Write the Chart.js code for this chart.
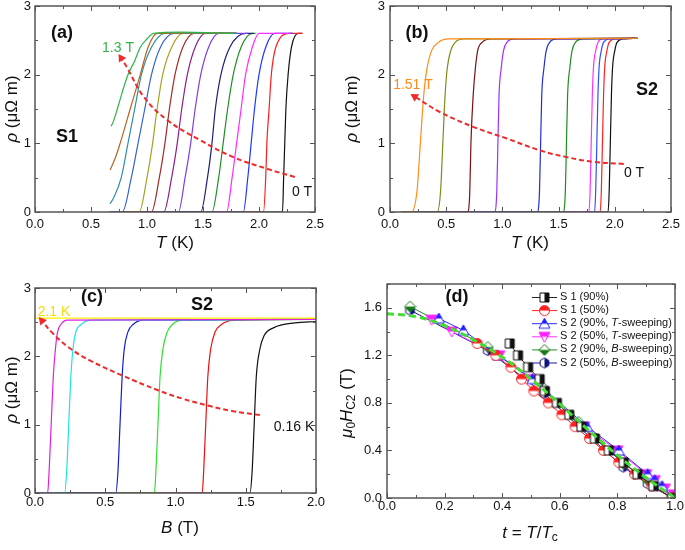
<!DOCTYPE html>
<html>
<head>
<meta charset="utf-8">
<script src="https://cdn.jsdelivr.net/npm/chart.js@4.4.0/dist/chart.umd.min.js"></script>
<style>
  body { margin: 0; background: #fff; }
  #wrap { position: relative; width: 685px; height: 550px; overflow: hidden; }
  canvas { position: absolute; }
</style>
</head>
<body>
<div id="wrap">
  <canvas id="ca" width="345" height="270" style="left:0;top:0"></canvas>
  <canvas id="cb" width="345" height="270" style="left:340px;top:0"></canvas>
  <canvas id="cc" width="345" height="280" style="left:0;top:270px"></canvas>
  <canvas id="cd" width="350" height="280" style="left:335px;top:270px"></canvas>
</div>
<script>
"use strict";

const FONT = "Arial, 'Liberation Sans', sans-serif";

// ---------- (a) S1, T-sweeping, 1.3 T ... 0 T
const aColors = ["#2cb34a", "#b8641e", "#2f8f9f", "#3563cf", "#a5a223", "#a32a24", "#8e1f86",
    "#7c3fe4", "#1c1c7e", "#1f8f22", "#ff2bff", "#2038ff", "#ff1c1c", "#111111"];
const aLevels = [0, 0, 0.5, 1.0, 1.5, 2.0, 2.4, 2.6, 2.6];
const aT = [
    [0.68, 0.70, 0.735, 0.78, 0.83, 0.89, 0.94, 1.00, 1.06, 1.30, 1.77],
    [0.67, 0.72, 0.76, 0.85, 0.94, 1.01, 1.09, 1.40, 1.77],
    [0.67, 0.70, 0.77, 0.83, 0.89, 0.95, 1.04, 1.16, 1.80],
    [0.67, 0.78, 0.86, 0.92, 0.98, 1.04, 1.12, 1.24, 1.80],
    [0.67, 0.93, 1.00, 1.05, 1.09, 1.14, 1.22, 1.32, 1.80],
    [0.67, 1.04, 1.11, 1.16, 1.20, 1.25, 1.32, 1.42, 1.80],
    [0.67, 1.15, 1.22, 1.27, 1.31, 1.36, 1.43, 1.52, 1.80],
    [0.67, 1.28, 1.34, 1.39, 1.43, 1.48, 1.55, 1.64, 1.90],
    [0.67, 1.48, 1.54, 1.58, 1.61, 1.66, 1.74, 1.88, 1.95],
    [0.67, 1.58, 1.64, 1.68, 1.72, 1.77, 1.84, 1.94, 1.97],
    [0.67, 1.71, 1.76, 1.80, 1.84, 1.88, 1.94, 2.00, 2.28],
    [0.67, 1.86, 1.90, 1.93, 1.96, 2.00, 2.06, 2.14, 2.30],
    [0.67, 2.04, 2.06, 2.07, 2.09, 2.11, 2.15, 2.27, 2.39],
    [0.67, 2.21, 2.22, 2.23, 2.24, 2.26, 2.29, 2.35, 2.38]
];
const aRho = [
    [1.25, 1.32, 1.50, 1.75, 2.00, 2.20, 2.40, 2.52, 2.60, 2.62, 2.60],
    [0.61, 0.80, 1.00, 1.50, 2.00, 2.40, 2.60, 2.61, 2.60],
    [0.12, 0.20, 0.50, 1.00, 1.50, 2.00, 2.40, 2.60, 2.60]
].concat(aT.slice(3).map(() => aLevels));
const aArrowT = [2.32, 2.07, 1.77, 1.47, 1.18, 0.97, 0.82, 0.77];
const aArrowRho = [0.51, 0.63, 0.80, 1.05, 1.34, 1.68, 2.11, 2.24];
const aXTicks = [0, 0.5, 1.0, 1.5, 2.0, 2.5];
const aYTicks = [0, 1, 2, 3];

// ---------- (b) S2, T-sweeping, 1.51 T ... 0 T
const bColors = ["#ff8c1a", "#7f8c1c", "#7a1010", "#9b30ff", "#1f2fd0", "#1e8c1e", "#ff33ff", "#3050ff", "#ff2020", "#111111"];
const bLevels = [0, 0, 0.3, 1.0, 1.7, 2.1, 2.35, 2.47, 2.52, 2.53];
const bT = [
    [0.10, 0.19, 0.24, 0.27, 0.30, 0.33, 0.37, 0.43, 0.52, 2.2],
    [0.10, 0.42, 0.45, 0.47, 0.49, 0.51, 0.54, 0.58, 0.66, 2.2],
    [0.10, 0.69, 0.71, 0.72, 0.74, 0.76, 0.78, 0.82, 0.90, 2.2],
    [0.10, 0.93, 0.95, 0.96, 0.97, 0.99, 1.01, 1.04, 1.11, 2.2],
    [0.10, 1.31, 1.33, 1.34, 1.35, 1.37, 1.39, 1.42, 1.49, 2.2],
    [0.10, 1.54, 1.56, 1.57, 1.58, 1.60, 1.62, 1.65, 1.72, 2.2],
    [0.10, 1.77, 1.78, 1.79, 1.80, 1.81, 1.83, 1.85, 1.89, 2.2],
    [0.10, 1.82, 1.83, 1.84, 1.85, 1.86, 1.88, 1.90, 1.95, 2.2],
    [0.10, 1.87, 1.88, 1.89, 1.90, 1.91, 1.93, 1.95, 2.00, 2.2],
    [0.10, 1.94, 1.95, 1.96, 1.97, 1.98, 2.00, 2.02, 2.07, 2.2]
];
const bRho = bT.map(() => bLevels);
const bArrowT = [2.08, 1.81, 1.57, 1.33, 1.04, 0.74, 0.44, 0.22];
const bArrowRho = [0.70, 0.73, 0.80, 0.90, 1.07, 1.24, 1.46, 1.68];

// ---------- (c) S2, B-sweeping, 2.1 K ... 0.16 K
const cColors = ["#ffee00", "#e020e0", "#20e0f0", "#1020d0", "#30e030", "#ee1010", "#111111"];
const cLevels = [0, 0, 0.3, 1.0, 1.7, 2.1, 2.35, 2.47, 2.53, 2.54];
const cB = [
    [0, 2.0],
    [0, 0.09, 0.10, 0.115, 0.13, 0.145, 0.16, 0.185, 0.23, 2.0],
    [0, 0.21, 0.225, 0.24, 0.255, 0.27, 0.29, 0.33, 0.40, 2.0],
    [0, 0.575, 0.59, 0.605, 0.62, 0.635, 0.66, 0.70, 0.77, 2.0],
    [0, 0.85, 0.86, 0.875, 0.89, 0.91, 0.94, 0.98, 1.05, 2.0],
    [0, 1.19, 1.20, 1.215, 1.23, 1.25, 1.28, 1.33, 1.42, 2.0],
    [0, 1.53, 1.545, 1.56, 1.575, 1.60, 1.63, 1.70, 1.85, 2.0]
];
const cRho = [
    [2.56, 2.56],
    cLevels, cLevels, cLevels, cLevels, cLevels,
    [0, 0, 0.3, 1.0, 1.7, 2.1, 2.3, 2.42, 2.49, 2.51]
];
const cArrowB = [1.60, 1.40, 1.23, 1.05, 0.88, 0.62, 0.40, 0.24, 0.12, 0.05];
const cArrowRho = [1.14, 1.20, 1.28, 1.38, 1.50, 1.72, 1.93, 2.13, 2.35, 2.52];
const cXTicks = [0, 0.5, 1.0, 1.5, 2.0];

// ---------- (d) upper critical field vs reduced temperature
const dS1_90_t = [0.426, 0.455, 0.49, 0.53, 0.548, 0.59, 0.633, 0.675, 0.722, 0.77, 0.822, 0.87, 0.925, 0.99];
const dS1_90_h = [1.3, 1.2, 1.1, 1.0, 0.9, 0.8, 0.7, 0.6, 0.5, 0.4, 0.3, 0.2, 0.1, 0.0];
const dS1_50_t = [0.313, 0.378, 0.43, 0.467, 0.51, 0.56, 0.607, 0.653, 0.703, 0.752, 0.805, 0.86, 0.92, 0.99];
const dS1_50_h = [1.3, 1.2, 1.1, 1.0, 0.9, 0.8, 0.7, 0.6, 0.5, 0.4, 0.3, 0.2, 0.1, 0.0];
const dS2_90T_t = [0.18, 0.265, 0.385, 0.505, 0.695, 0.805, 0.905, 0.93, 0.955, 0.995];
const dS2_90T_h = [1.51, 1.41, 1.2, 1.0, 0.6, 0.4, 0.2, 0.15, 0.1, 0.0];
const dS2_50T_t = [0.155, 0.225, 0.39, 0.50, 0.685, 0.80, 0.90, 0.93, 0.965, 0.997];
const dS2_50T_h = [1.5, 1.4, 1.2, 1.0, 0.6, 0.4, 0.2, 0.15, 0.08, 0.03];
const dS2_90B_t = [0.08, 0.35, 0.545, 0.665, 0.82, 0.905, 0.995];
const dS2_90B_h = [1.61, 1.27, 0.92, 0.64, 0.29, 0.15, 0.01];
const dS2_50B_t = [0.08, 0.35, 0.545, 0.665, 0.82, 0.905, 0.99];
const dS2_50B_h = [1.58, 1.24, 0.88, 0.60, 0.26, 0.12, 0.0];
const dFit_t = [0, 0.1, 0.2, 0.3, 0.4, 0.5, 0.6, 0.7, 0.8, 0.9, 1.0];
const dFit_h = [1.55, 1.525, 1.45, 1.33, 1.185, 1.0, 0.79, 0.57, 0.36, 0.17, 0.0];
const dXTicks = [0, 0.2, 0.4, 0.6, 0.8, 1.0];
const dYTicks = [0, 0.4, 0.8, 1.2, 1.6];
const dNames = [
    [["S 1 (90%)"]],
    [["S 1 (50%)"]],
    [["S 2 (90%, "], ["T", "i"], ["-sweeping)"]],
    [["S 2 (50%, "], ["T", "i"], ["-sweeping)"]],
    [["S 2 (90%, "], ["B", "i"], ["-sweeping)"]],
    [["S 2 (50%, "], ["B", "i"], ["-sweeping)"]]
];

// ---------- helpers
function pts(xs, ys) {
    return xs.map((v, j) => ({ x: v, y: ys[j] }));
}

function curves(xs, ys, colors) {
    return xs.map((x, i) => ({
        data: pts(x, ys[i]),
        borderColor: colors[i],
        borderWidth: 1.2,
        pointRadius: 0,
        cubicInterpolationMode: "monotone"
    }));
}

function tipAngle(c) {
    const d = c.dataset.data;
    const n = d.length;
    if (c.dataIndex !== n - 1) return 0;
    const xs = c.chart.scales.x, ys = c.chart.scales.y;
    const dx = xs.getPixelForValue(d[n - 1].x) - xs.getPixelForValue(d[n - 2].x);
    const dy = ys.getPixelForValue(d[n - 1].y) - ys.getPixelForValue(d[n - 2].y);
    return Math.atan2(dx, -dy) * 180 / Math.PI;
}

function arrow(xs, ys) {
    return {
        data: pts(xs, ys),
        borderColor: "#ee2b2b",
        backgroundColor: "#ee2b2b",
        borderWidth: 2,
        borderDash: [5, 3],
        tension: 0.4,
        pointStyle: "triangle",
        pointRadius: c => (c.dataIndex === xs.length - 1 ? 5 : 0),
        pointBorderWidth: 0,
        pointRotation: tipAngle
    };
}

function marker(shape, color, half) {
    const c = document.createElement("canvas");
    c.width = c.height = 13;
    const g = c.getContext("2d");
    const r = 5;
    g.translate(6.5, 6.5);
    g.beginPath();
    if (shape === "square") {
        g.rect(-4.5, -4.5, 9, 9);
    } else if (shape === "circle") {
        g.arc(0, 0, r, 0, Math.PI * 2);
    } else if (shape === "up") {
        g.moveTo(0, -r - 0.5); g.lineTo(r + 0.5, r - 0.5); g.lineTo(-r - 0.5, r - 0.5); g.closePath();
    } else if (shape === "down") {
        g.moveTo(0, r + 0.5); g.lineTo(r + 0.5, -r + 0.5); g.lineTo(-r - 0.5, -r + 0.5); g.closePath();
    } else if (shape === "diamond") {
        g.moveTo(0, -r - 0.5); g.lineTo(r + 0.5, 0); g.lineTo(0, r + 0.5); g.lineTo(-r - 0.5, 0); g.closePath();
    } else {
        for (let k = 0; k < 6; k++) {
            const a = k * Math.PI / 3 + Math.PI / 6;
            g.lineTo(r * Math.cos(a), r * Math.sin(a));
        }
        g.closePath();
    }
    g.fillStyle = "#fff";
    g.fill();
    g.save();
    g.clip();
    g.fillStyle = color;
    if (half === "right") g.fillRect(0, -7, 7, 14);
    else if (half === "top") g.fillRect(-7, -7, 14, 7);
    else g.fillRect(-7, 0, 14, 7);
    g.restore();
    g.strokeStyle = color;
    g.lineWidth = 1;
    g.stroke();
    return c;
}

function series(xs, ys, color, img) {
    return {
        data: pts(xs, ys),
        borderColor: color,
        backgroundColor: color,
        borderWidth: 1,
        pointStyle: img,
        pointRadius: 5
    };
}

function drawRich(ctx, parts, x, y, size, color, align, rot) {
    const fontOf = st => (st.includes("i") ? "italic " : "") + (st.includes("b") ? "bold " : "") +
        (st.includes("s") ? size * 0.7 : size) + "px " + FONT;
    ctx.save();
    ctx.translate(x, y);
    if (rot) ctx.rotate(-Math.PI / 2);
    ctx.fillStyle = color || "#111";
    ctx.textBaseline = "middle";
    ctx.textAlign = "left";
    let w = 0;
    parts.forEach(p => { ctx.font = fontOf(p[1] || ""); w += ctx.measureText(p[0]).width; });
    let cx = align === "left" ? 0 : -w / 2;
    parts.forEach(p => {
        const st = p[1] || "";
        ctx.font = fontOf(st);
        ctx.fillText(p[0], cx, st.includes("s") ? size * 0.3 : 0);
        cx += ctx.measureText(p[0]).width;
    });
    ctx.restore();
}

// box with inward major/minor ticks on all four sides
function frame(xMinor, yMinor) {
    return {
        id: "boxTicks",
        afterDraw(chart) {
            const { ctx, chartArea: a, scales } = chart;
            const xs = scales.x, ys = scales.y;
            ctx.save();
            ctx.strokeStyle = "#555";
            ctx.lineWidth = 1;
            ctx.beginPath();
            for (let v = xs.min; v <= xs.max + 1e-9; v += xMinor) {
                const major = xs.ticks.some(t => Math.abs(t.value - v) < 1e-6);
                const l = major ? 5 : 3;
                const p = Math.round(xs.getPixelForValue(v)) + 0.5;
                ctx.moveTo(p, a.bottom); ctx.lineTo(p, a.bottom - l);
                ctx.moveTo(p, a.top); ctx.lineTo(p, a.top + l);
            }
            for (let v = ys.min; v <= ys.max + 1e-9; v += yMinor) {
                const major = ys.ticks.some(t => Math.abs(t.value - v) < 1e-6);
                const l = major ? 5 : 3;
                const p = Math.round(ys.getPixelForValue(v)) + 0.5;
                ctx.moveTo(a.left, p); ctx.lineTo(a.left + l, p);
                ctx.moveTo(a.right, p); ctx.lineTo(a.right - l, p);
            }
            ctx.stroke();
            ctx.lineWidth = 1.5;
            ctx.strokeRect(a.left, a.top, a.width, a.height);
            ctx.restore();
        }
    };
}

// free text: panel letters, labels, axis titles, and the (d) key
const notes = {
    id: "notes",
    afterDraw(chart, args, opts) {
        const ctx = chart.ctx;
        (opts.items || []).forEach(n => drawRich(ctx, n.parts, n.x, n.y, n.size, n.color, n.align, n.rot));
        if (opts.key) {
            const k = opts.key;
            k.names.forEach((parts, i) => {
                const ds = chart.data.datasets[k.first + i];
                const y = k.y + i * k.step;
                ctx.save();
                ctx.strokeStyle = ds.borderColor;
                ctx.lineWidth = 1;
                ctx.beginPath();
                ctx.moveTo(k.x, y + 0.5);
                ctx.lineTo(k.x + 25, y + 0.5);
                ctx.stroke();
                ctx.drawImage(ds.pointStyle, k.x + 12.5 - 6.5, y - 6);
                ctx.restore();
                drawRich(ctx, parts, k.x + 28, y, 11, "#111", "left");
            });
        }
    }
};

function options(box, x, y, items, key) {
    return {
        responsive: false,
        animation: false,
        devicePixelRatio: 1,
        layout: { padding: { left: 0, top: box.top, right: box.right, bottom: 0 } },
        plugins: {
            legend: { display: false },
            tooltip: { enabled: false },
            notes: { items: items, key: key }
        },
        scales: {
            x: {
                type: "linear",
                min: x.min,
                max: x.max,
                grid: { display: false, drawTicks: false },
                border: { display: false },
                ticks: {
                    padding: box.xPad,
                    color: "#111",
                    font: { family: FONT, size: 13 },
                    callback: v => v.toFixed(x.dec)
                },
                afterBuildTicks: s => { s.ticks = x.ticks.map(v => ({ value: v })); },
                afterFit: s => { s.height = box.xh; s.paddingLeft = 0; s.paddingRight = 0; }
            },
            y: {
                type: "linear",
                min: y.min,
                max: y.max,
                grid: { display: false, drawTicks: false },
                border: { display: false },
                ticks: {
                    padding: box.yPad,
                    color: "#111",
                    font: { family: FONT, size: 13 },
                    callback: v => v.toFixed(y.dec)
                },
                afterBuildTicks: s => { s.ticks = y.ticks.map(v => ({ value: v })); },
                afterFit: s => { s.width = box.yw; s.paddingTop = 0; s.paddingBottom = 0; }
            }
        }
    };
}

const rhoTitle = [["ρ", "i"], [" (μΩ m)"]];
const tTitle = [["T", "i"], [" (K)"]];

new Chart(document.getElementById("ca"), {
    type: "line",
    data: { datasets: [arrow(aArrowT, aArrowRho)].concat(curves(aT, aRho, aColors)) },
    options: options(
        { top: 6, right: 30, xh: 58, yw: 35, xPad: 5, yPad: 4 },
        { min: 0, max: 2.5, ticks: aXTicks, dec: 1 },
        { min: 0, max: 3, ticks: aYTicks, dec: 0 },
        [
            { parts: rhoTitle, x: 12, y: 109, size: 17, rot: true },
            { parts: tTitle, x: 175, y: 243, size: 17 },
            { parts: [["(a)", "b"]], x: 62, y: 33, size: 18 },
            { parts: [["1.3 T"]], x: 118, y: 48, size: 14, color: "#2cb34a" },
            { parts: [["S1", "b"]], x: 67, y: 137, size: 18 },
            { parts: [["0 T"]], x: 302, y: 192, size: 14 }
        ]
    ),
    plugins: [frame(0.25, 0.5), notes]
});

new Chart(document.getElementById("cb"), {
    type: "line",
    data: { datasets: [arrow(bArrowT, bArrowRho)].concat(curves(bT, bRho, bColors)) },
    options: options(
        { top: 6, right: 14, xh: 58, yw: 50, xPad: 5, yPad: 5 },
        { min: 0, max: 2.5, ticks: aXTicks, dec: 1 },
        { min: 0, max: 3, ticks: aYTicks, dec: 0 },
        [
            { parts: rhoTitle, x: 12, y: 109, size: 17, rot: true },
            { parts: tTitle, x: 190, y: 243, size: 17 },
            { parts: [["(b)", "b"]], x: 77, y: 33, size: 18 },
            { parts: [["1.51 T"]], x: 73, y: 85, size: 14, color: "#ff8c1a" },
            { parts: [["S2", "b"]], x: 307, y: 90, size: 18 },
            { parts: [["0 T"]], x: 294, y: 173, size: 14 }
        ]
    ),
    plugins: [frame(0.25, 0.5), notes]
});

new Chart(document.getElementById("cc"), {
    type: "line",
    data: { datasets: [arrow(cArrowB, cArrowRho)].concat(curves(cB, cRho, cColors)) },
    options: options(
        { top: 18, right: 29, xh: 57, yw: 35, xPad: 2, yPad: 4 },
        { min: 0, max: 2, ticks: cXTicks, dec: 1 },
        { min: 0, max: 3, ticks: aYTicks, dec: 0 },
        [
            { parts: rhoTitle, x: 12, y: 120, size: 17, rot: true },
            { parts: [["B", "i"], [" (T)"]], x: 180, y: 258, size: 17 },
            { parts: [["(c)", "b"]], x: 92, y: 27, size: 18 },
            { parts: [["S2", "b"]], x: 202, y: 35, size: 18 },
            { parts: [["2.1 K"]], x: 54, y: 42, size: 14, color: "#f0e000" },
            { parts: [["0.16 K"]], x: 294, y: 157, size: 14 }
        ]
    ),
    plugins: [frame(0.25, 0.5), notes]
});

new Chart(document.getElementById("cd"), {
    type: "line",
    data: {
        datasets: [
            {
                data: pts(dFit_t, dFit_h),
                borderColor: "#44dd33",
                borderWidth: 3,
                borderDash: [7, 4],
                pointRadius: 0,
                tension: 0.4
            },
            series(dS1_90_t, dS1_90_h, "#222222", marker("square", "#111111", "right")),
            series(dS1_50_t, dS1_50_h, "#ff2020", marker("circle", "#ff2020", "top")),
            series(dS2_90T_t, dS2_90T_h, "#2b2bff", marker("up", "#2020ff", "top")),
            series(dS2_50T_t, dS2_50T_h, "#ff30ff", marker("down", "#ff20ff", "top")),
            series(dS2_90B_t, dS2_90B_h, "#1f8f1f", marker("diamond", "#127812", "bottom")),
            series(dS2_50B_t, dS2_50B_h, "#1a1aa0", marker("hex", "#101080", "right"))
        ]
    },
    options: options(
        { top: 14, right: 10, xh: 52, yw: 52, xPad: 1, yPad: 5 },
        { min: 0, max: 1, ticks: dXTicks, dec: 1 },
        { min: 0, max: 1.8, ticks: dYTicks, dec: 1 },
        [
            { parts: [["μ", "i"], ["0", "s"], ["H", "i"], ["C2", "s"], [" (T)"]], x: 12, y: 133, size: 17, rot: true },
            { parts: [["t", "i"], [" = "], ["T", "i"], ["/"], ["T", "i"], ["c", "s"]], x: 195, y: 263, size: 17 },
            { parts: [["(d)", "b"]], x: 122, y: 27, size: 18 }
        ],
        { names: dNames, first: 1, x: 197, y: 27, step: 13.1 }
    ),
    plugins: [frame(0.1, 0.2), notes]
});
</script>
</body>
</html>
